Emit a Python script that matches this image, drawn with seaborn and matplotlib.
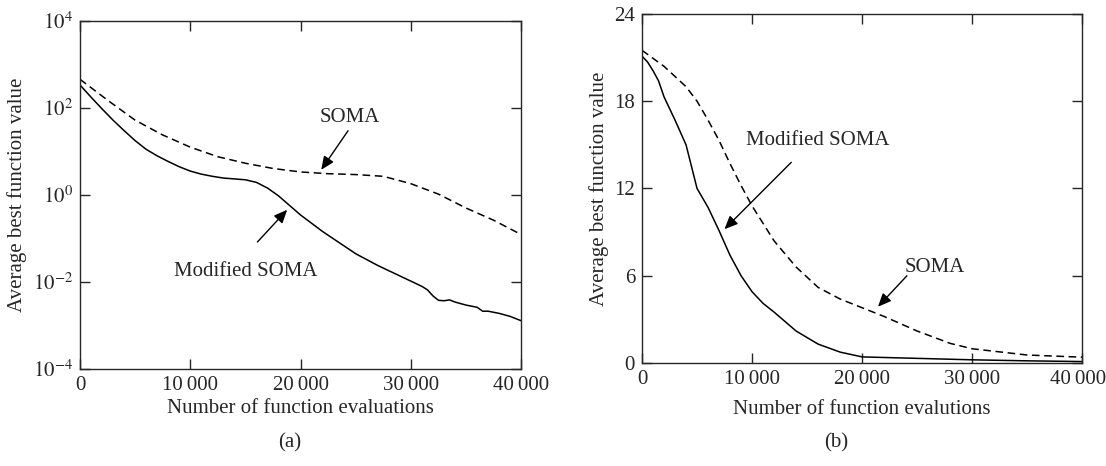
import numpy as np
import pandas as pd
import seaborn as sns
import matplotlib.pyplot as plt
import matplotlib.transforms as mtransforms
from matplotlib.ticker import FixedLocator, FuncFormatter

# (a) log scale, values read as log10
evals_a = [0, 1000, 2000, 3000, 4000, 5000, 6000, 7000, 8000, 9000, 10000, 11000, 12000,
           13000, 14000, 15000, 16000, 17000, 18000, 19000, 20000, 22000, 24000, 25000,
           27000, 29000, 30000, 31000, 31500, 32000, 32500, 33000, 33500, 34000, 35000,
           36000, 36500, 37000, 38000, 39000, 40000]
mod_a_log = [2.53, 2.25, 1.98, 1.72, 1.48, 1.25, 1.05, 0.90, 0.77, 0.65, 0.55, 0.48, 0.43,
             0.39, 0.37, 0.35, 0.29, 0.16, -0.02, -0.24, -0.46, -0.84, -1.18, -1.35,
             -1.62, -1.86, -1.98, -2.10, -2.18, -2.32, -2.42, -2.43, -2.41, -2.46, -2.53,
             -2.58, -2.67, -2.67, -2.72, -2.79, -2.89]
evals_a2 = [0, 2500, 5000, 7500, 10000, 12500, 15000, 17500, 20000, 22500, 25000, 27500,
            30000, 32500, 35000, 37500, 40000]
soma_a_log = [2.66, 2.18, 1.72, 1.38, 1.10, 0.88, 0.73, 0.61, 0.53, 0.49, 0.47, 0.43,
              0.26, 0.02, -0.30, -0.58, -0.91]

# (b) linear scale
evals_b = [0, 500, 1000, 1500, 2000, 3000, 4000, 4400, 5000, 6000, 7000, 8000, 9000,
           10000, 11000, 12000, 14000, 16000, 18000, 20000, 22000, 25000, 30000, 35000, 40000]
mod_b = [21.1, 20.7, 20.1, 19.4, 18.3, 16.7, 15.0, 13.8, 12.0, 10.7, 9.1, 7.4, 6.0,
         4.9, 4.1, 3.5, 2.2, 1.3, 0.75, 0.42, 0.38, 0.32, 0.22, 0.15, 0.1]
evals_b2 = [0, 2000, 4000, 5000, 6000, 7000, 8000, 9000, 10000, 12000, 14000, 16000,
            18000, 20000, 22000, 25000, 28000, 30000, 35000, 40000]
soma_b = [21.5, 20.4, 19.0, 18.0, 16.7, 15.3, 13.7, 12.2, 10.8, 8.4, 6.6, 5.2,
          4.4, 3.8, 3.2, 2.2, 1.35, 0.98, 0.55, 0.4]

sns.set_style("ticks")
plt.rcParams['font.family'] = ['Liberation Serif', 'DejaVu Serif']
plt.rcParams['mathtext.fontset'] = 'stix'

fig = plt.figure(figsize=(11.06, 4.66), dpi=100)
ax1 = fig.add_axes([0.0723, 0.208, 0.399, 0.747])
ax2 = fig.add_axes([0.5805, 0.221, 0.398, 0.749])

fs = 15
kw_solid = dict(color="black", linewidth=1.1)
kw_dash = dict(color="black", linewidth=1.1, linestyle=(0, (5, 3)))

sns.lineplot(x=evals_a, y=10 ** np.array(mod_a_log), ax=ax1, **kw_solid)
sns.lineplot(x=evals_a2, y=10 ** np.array(soma_a_log), ax=ax1, **kw_dash)
ax1.set_yscale("log")
ax1.set_ylim(1e-4, 1e4)
ax1.set_xlim(0, 40000)
ax1.yaxis.set_major_locator(FixedLocator([1e-4, 1e-2, 1e0, 1e2, 1e4]))
ax1.yaxis.set_minor_locator(FixedLocator([]))
ax1.yaxis.set_major_formatter(FuncFormatter(lambda v, p: r"$10^{%d}$" % round(np.log10(v))))

sns.lineplot(x=evals_b, y=mod_b, ax=ax2, **kw_solid)
sns.lineplot(x=evals_b2, y=soma_b, ax=ax2, **kw_dash)
ax2.set_ylim(0, 24)
ax2.set_xlim(0, 40000)
ax2.set_yticks([0, 6, 12, 18, 24])

for ax in (ax1, ax2):
    ax.set_xticks([0, 10000, 20000, 30000, 40000])
    ax.xaxis.set_major_formatter(FuncFormatter(lambda v, p: "0" if v == 0 else f"{int(v):,}".replace(",", "\u2009")))
    ax.tick_params(direction="in", top=True, right=True, length=7, width=1, labelsize=fs, pad=5)
    for s in ax.spines.values():
        s.set_linewidth(1.0)
    ax.set_ylabel("Average best function value", fontsize=fs)

# last tick label of (b) sits at the figure edge; nudge it in a little
fig.canvas.draw()
last = ax2.get_xticklabels()[-1]
last.set_transform(last.get_transform() + mtransforms.ScaledTranslation(-4 / 100, 0, fig.dpi_scale_trans))

ax1.set_xlabel("Number of function evaluations", fontsize=fs, labelpad=3)
ax2.set_xlabel("Number of function evalutions", fontsize=fs, labelpad=8)

arr = dict(arrowstyle="-|>,head_length=0.8,head_width=0.35", color="black", lw=1, shrinkA=0, shrinkB=0)
ax1.text(24500, 62, "SOMA", fontsize=fs, ha="center", va="center")
ax1.annotate("", xy=(21870, 3.8), xytext=(24300, 30), arrowprops=arr)
ax1.text(15000, 10 ** -1.75, "Modified SOMA", fontsize=fs, ha="center", va="center")
ax1.annotate("", xy=(18780, 10 ** -0.34), xytext=(16085, 10 ** -1.08), arrowprops=arr)

ax2.text(16000, 15.3, "Modified SOMA", fontsize=fs, ha="center", va="center")
ax2.annotate("", xy=(7490, 9.2), xytext=(13560, 13.8), arrowprops=arr)
ax2.text(23900, 6.6, "SOMA", fontsize=fs, ha="left", va="center")
ax2.annotate("", xy=(21440, 3.87), xytext=(24070, 6.0), arrowprops=arr)

fig.text(290 / 1106, 1 - 443 / 466, "(a)", fontsize=fs, ha="center", va="center")
fig.text(836 / 1106, 1 - 443 / 466, "(b)", fontsize=fs, ha="center", va="center")

fig.savefig("out.png", dpi=100)
